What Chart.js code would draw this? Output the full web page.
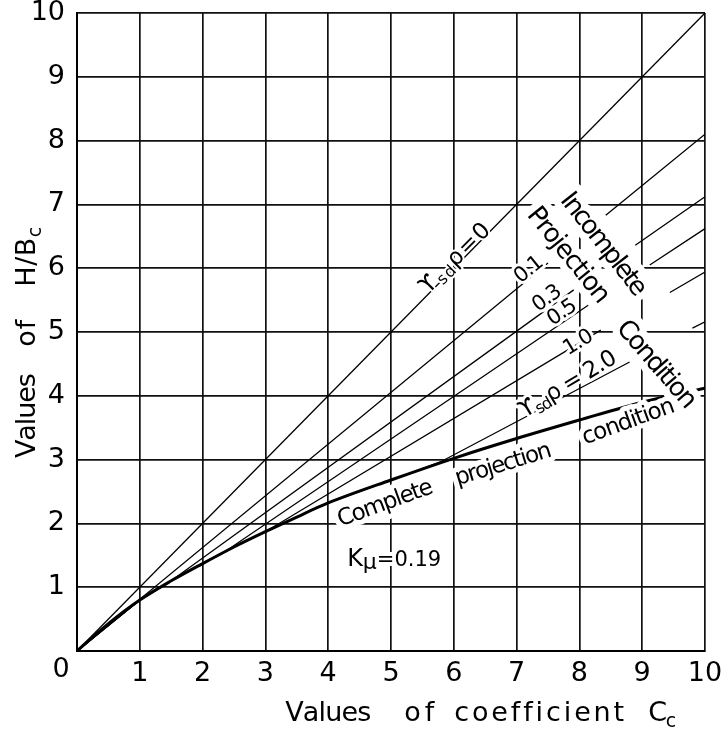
<!DOCTYPE html>
<html>
<head>
<meta charset="utf-8">
<script src="https://cdn.jsdelivr.net/npm/chart.js@4.4.1/dist/chart.umd.min.js"></script>
<style>
  html, body { margin: 0; padding: 0; background: #fff; }
  canvas { display: block; }
</style>
</head>
<body>
<canvas id="chart" width="722" height="736"></canvas>
<script>
// axis ticks
const xTicks = [0, 1, 2, 3, 4, 5, 6, 7, 8, 9, 10];
const yTicks = [0, 1, 2, 3, 4, 5, 6, 7, 8, 9, 10];

// complete projection condition (thick curve), H/Bc against Cc
const ccComplete = [0, 0.5, 1, 1.5, 2, 2.5, 3, 3.5, 4, 5, 6, 7, 8, 9, 10];
const hbComplete = [0, 0.43, 0.8, 1.1, 1.37, 1.63, 1.87, 2.1, 2.32, 2.68, 3.02, 3.33, 3.62, 3.9, 4.12];

// incomplete projection condition, one line per rsd*p value (null = gap under lettering)
const ccR0 = [0, 10];
const hbR0 = [0, 10];
const ccR01 = [0, 7.5, 7.9, 8.42, 10];
const hbR01 = [0, 6.08, null, 6.83, 8.1];
const ccR03 = [0, 1, 1.5, 7.91, 8.4, 8.89, 10];
const hbR03 = [0, 0.8, 1.1, 5.66, null, 6.36, 7.12];
const ccR05 = [0, 1, 1.5, 2, 2.3, 8.14, 8.6, 9.12, 10];
const hbR05 = [0, 0.8, 1.1, 1.37, 1.52, 5.42, null, 6.05, 6.62];
const ccR10 = [0, 1, 1.5, 2, 2.5, 3, 8.34, 8.9, 9.44, 10];
const hbR10 = [0, 0.8, 1.1, 1.37, 1.63, 1.87, 5.03, null, 5.62, 5.94];
const ccR20 = [0, 1, 1.5, 2, 2.5, 3, 3.5, 4, 5, 5.8, 8.8, 9.3, 9.8, 10];
const hbR20 = [0, 0.8, 1.1, 1.37, 1.63, 1.87, 2.1, 2.32, 2.68, 2.97, 4.53, null, 5.06, 5.16];

const FONT = '"DejaVu Sans", sans-serif';

function pts(xs, ys) {
  return xs.map((x, i) => ({ x: x, y: ys[i] }));
}

function thin(xs, ys) {
  return { data: pts(xs, ys), showLine: true, borderColor: '#000', borderWidth: 1.3,
           pointRadius: 0, tension: 0, spanGaps: false };
}

const datasets = [
  thin(ccR0, hbR0), thin(ccR01, hbR01), thin(ccR03, hbR03),
  thin(ccR05, hbR05), thin(ccR10, hbR10), thin(ccR20, hbR20),
  { data: pts(ccComplete, hbComplete), showLine: true, borderColor: '#000', borderWidth: 3,
    pointRadius: 0, cubicInterpolationMode: 'monotone' }
];

// lettering on the plot: [text, size, lowered by], centre in data units, angle in degrees
const plotLabels = [
  { parts: [['ϒ', 23, 0], ['sd', 16, 4], ['ρ=0', 23, 0]], x: 6.0, y: 6.17, angle: -45, width: 90, halo: 2 },
  { parts: [['0.1', 21, 0]], x: 7.18, y: 6.0, angle: -39, width: 31, halo: 3 },
  { parts: [['0.3', 21, 0]], x: 7.47, y: 5.55, angle: -36, width: 31, halo: 3 },
  { parts: [['0.5', 21, 0]], x: 7.71, y: 5.33, angle: -34, width: 31, halo: 3 },
  { parts: [['1.0', 21, 0]], x: 7.97, y: 4.86, angle: -31, width: 31, halo: 3 },
  { parts: [['ϒ', 23, 0], ['sd', 16, 4], ['ρ = 2.0', 23, 0]], x: 7.8, y: 4.2, angle: -31, width: 110, halo: 3 },
  { parts: [['Incomplete', 26, 0]], x: 8.41, y: 6.39, angle: 52, width: 124, halo: 7 },
  { parts: [['Projection', 26, 0]], x: 7.85, y: 6.22, angle: 51, width: 116, halo: 7 },
  { parts: [['Condition', 26, 0]], x: 9.25, y: 4.51, angle: 49, width: 108, halo: 7 },
  { parts: [['Complete', 23, 0]], x: 4.9, y: 2.34, angle: -20, width: 100, halo: 5 },
  { parts: [['projection', 23, 0]], x: 6.78, y: 2.95, angle: -17, width: 100, halo: 5 },
  { parts: [['condition', 23, 0]], x: 8.77, y: 3.62, angle: -20, width: 97, halo: 5 },
  { parts: [['K', 24, 0], ['μ', 22, 3], ['=0.19', 21, 0]], x: 5.05, y: 1.47, angle: 0, width: 94, halo: 4 }
];

// axis titles: x words placed along the x scale, y words along the y scale
const xTitle = [
  { parts: [['Values', 27, 0]], x: 4.0, width: 86 },
  { parts: [['of', 27, 0]], x: 5.45, width: 30 },
  { parts: [['coefficient', 27, 0]], x: 7.36, width: 170 },
  { parts: [['C', 27, 0], ['c', 19, 6]], x: 9.32, width: 28 }
];
const yTitle = [
  { parts: [['Values', 27, 0]], y: 3.69, width: 85 },
  { parts: [['of', 27, 0]], y: 4.98, width: 27 },
  { parts: [['H/B', 27, 0], ['c', 19, 6]], y: 6.18, width: 60 }
];

function drawText(ctx, lab, px, py) {
  const chars = [];
  lab.parts.forEach(([t, size, dy]) => { for (const ch of t) chars.push({ ch, size, dy }); });
  chars.forEach(c => { ctx.font = c.size + 'px ' + FONT; c.w = ctx.measureText(c.ch).width; });
  const natural = chars.reduce((s, c) => s + c.w, 0);
  const gap = lab.width && chars.length > 1 ? (lab.width - natural) / (chars.length - 1) : 0;
  const total = natural + gap * (chars.length - 1);
  const base = lab.parts[0][1] * 0.36;
  ctx.save();
  ctx.translate(px, py);
  ctx.rotate(lab.angle * Math.PI / 180);
  ctx.textAlign = 'left';
  ctx.textBaseline = 'alphabetic';
  ctx.lineJoin = 'round';
  ['halo', 'ink'].forEach(pass => {
    let x = -total / 2;
    chars.forEach(c => {
      ctx.font = c.size + 'px ' + FONT;
      if (pass === 'halo') {
        if (lab.halo) {
          ctx.strokeStyle = '#fff';
          ctx.lineWidth = lab.halo * 2;
          ctx.strokeText(c.ch, x, base + c.dy);
        }
      } else {
        ctx.fillStyle = '#000';
        ctx.fillText(c.ch, x, base + c.dy);
      }
      x += c.w + gap;
    });
  });
  ctx.restore();
}

const lettering = {
  id: 'lettering',
  afterDatasetsDraw(chart) {
    const { ctx, chartArea } = chart;
    const sx = chart.scales.x, sy = chart.scales.y;
    plotLabels.forEach(l => drawText(ctx, l, sx.getPixelForValue(l.x), sy.getPixelForValue(l.y)));
    xTitle.forEach(l => drawText(ctx, Object.assign({ angle: 0 }, l), sx.getPixelForValue(l.x), chartArea.bottom + 60));
    yTitle.forEach(l => drawText(ctx, Object.assign({ angle: -90 }, l), chartArea.left - 52, sy.getPixelForValue(l.y)));
    // shared origin label
    drawText(ctx, { parts: [['0', 27, 0]], angle: 0 }, chartArea.left - 16, chartArea.bottom + 16);
  }
};

function axis(ticks, extra) {
  return Object.assign({
    type: 'linear',
    min: ticks[0],
    max: ticks[ticks.length - 1],
    afterBuildTicks: s => { s.ticks = ticks.map(v => ({ value: v })); },
    ticks: {
      color: '#000',
      font: { family: FONT, size: 27, lineHeight: 1 },
      callback: v => (v === 0 ? '' : String(v))
    },
    grid: { color: '#111', lineWidth: 1.7, drawTicks: false },
    border: { color: '#000', width: 2 }
  }, extra);
}

// fixed axis boxes; drop the label overhang so the plot area keeps the reference frame
const xAxis = axis(xTicks, { afterFit: s => { s.height = 85; s.paddingLeft = 0; s.paddingRight = 0; } });
xAxis.ticks.padding = 9;
const yAxis = axis(yTicks, { afterFit: s => { s.width = 77; s.paddingTop = 0; s.paddingBottom = 0; } });
yAxis.ticks.padding = 12;

new Chart(document.getElementById('chart').getContext('2d'), {
  type: 'scatter',
  data: { datasets: datasets },
  options: {
    responsive: false,
    animation: false,
    layout: { padding: { left: 0, right: 17, top: 13, bottom: 0 } },
    plugins: { legend: { display: false }, tooltip: { enabled: false } },
    scales: { x: xAxis, y: yAxis }
  },
  plugins: [lettering]
});
</script>
</body>
</html>
